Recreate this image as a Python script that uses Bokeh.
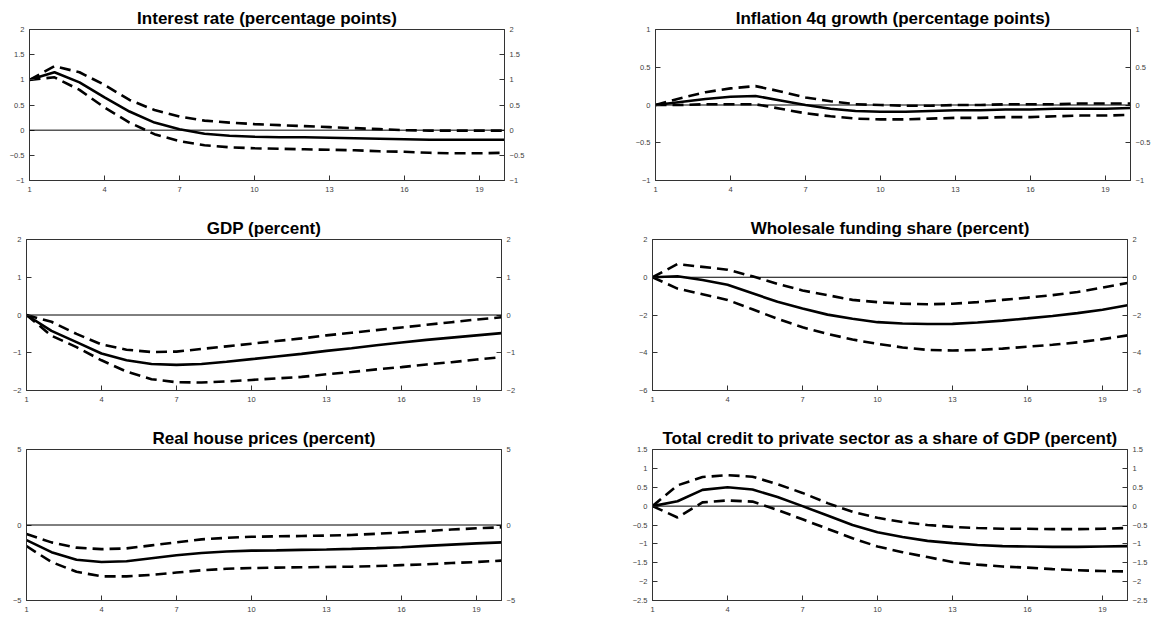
from bokeh.plotting import figure
from bokeh.layouts import column, row
from bokeh.models import Range1d, LinearAxis, FixedTicker, Span, Spacer
from bokeh.embed import file_html
from bokeh.resources import INLINE

horizon = list(range(1, 21))
x_ticks = [1, 4, 7, 10, 13, 16, 19]

titles = [
    "Interest rate (percentage points)",
    "Inflation 4q growth (percentage points)",
    "GDP (percent)",
    "Wholesale funding share (percent)",
    "Real house prices (percent)",
    "Total credit to private sector as a share of GDP (percent)",
]

rate_med = [1.00, 1.15, 0.95, 0.65, 0.37, 0.15, 0.02, -0.07, -0.11, -0.13, -0.14, -0.14, -0.15, -0.16, -0.17, -0.18, -0.19, -0.19, -0.19, -0.19]
rate_up = [1.00, 1.27, 1.15, 0.90, 0.60, 0.40, 0.27, 0.19, 0.15, 0.12, 0.10, 0.08, 0.06, 0.04, 0.02, 0.00, -0.01, -0.01, -0.01, -0.01]
rate_lo = [1.00, 1.05, 0.80, 0.45, 0.15, -0.08, -0.22, -0.30, -0.34, -0.36, -0.37, -0.38, -0.39, -0.40, -0.42, -0.43, -0.45, -0.46, -0.46, -0.45]

infl_med = [0.00, 0.04, 0.08, 0.11, 0.12, 0.06, 0.00, -0.05, -0.08, -0.09, -0.09, -0.08, -0.07, -0.07, -0.06, -0.06, -0.05, -0.05, -0.05, -0.04]
infl_up = [0.00, 0.09, 0.17, 0.22, 0.25, 0.18, 0.10, 0.05, 0.01, 0.00, -0.01, -0.01, 0.00, 0.00, 0.01, 0.01, 0.01, 0.02, 0.02, 0.02]
infl_lo = [0.00, 0.00, 0.01, 0.01, 0.01, -0.05, -0.11, -0.15, -0.18, -0.19, -0.19, -0.18, -0.17, -0.17, -0.16, -0.16, -0.15, -0.14, -0.14, -0.13]

gdp_med = [0.00, -0.42, -0.72, -1.02, -1.20, -1.30, -1.32, -1.30, -1.24, -1.17, -1.10, -1.03, -0.95, -0.88, -0.80, -0.73, -0.66, -0.60, -0.54, -0.48]
gdp_up = [0.00, -0.18, -0.50, -0.78, -0.92, -0.98, -0.97, -0.90, -0.83, -0.76, -0.69, -0.62, -0.54, -0.47, -0.40, -0.33, -0.26, -0.19, -0.12, -0.06]
gdp_lo = [0.00, -0.55, -0.85, -1.20, -1.50, -1.70, -1.78, -1.79, -1.76, -1.72, -1.68, -1.64, -1.57, -1.51, -1.44, -1.38, -1.31, -1.25, -1.18, -1.12]

wf_med = [0.00, 0.05, -0.15, -0.40, -0.85, -1.30, -1.65, -1.98, -2.20, -2.38, -2.45, -2.48, -2.47, -2.40, -2.30, -2.18, -2.05, -1.90, -1.72, -1.48]
wf_up = [0.00, 0.70, 0.55, 0.40, 0.05, -0.35, -0.70, -0.95, -1.20, -1.32, -1.40, -1.43, -1.40, -1.32, -1.20, -1.08, -0.95, -0.78, -0.55, -0.30]
wf_lo = [0.00, -0.60, -0.90, -1.20, -1.70, -2.20, -2.65, -3.00, -3.30, -3.53, -3.72, -3.85, -3.88, -3.85, -3.78, -3.68, -3.58, -3.45, -3.28, -3.08]

hp_med = [-1.00, -1.80, -2.30, -2.45, -2.40, -2.20, -2.00, -1.85, -1.75, -1.70, -1.68, -1.65, -1.62, -1.58, -1.53, -1.47, -1.38, -1.30, -1.22, -1.15]
hp_up = [-0.60, -1.15, -1.50, -1.60, -1.55, -1.35, -1.15, -0.95, -0.85, -0.78, -0.75, -0.73, -0.70, -0.66, -0.58, -0.50, -0.40, -0.30, -0.22, -0.15]
hp_lo = [-1.40, -2.45, -3.10, -3.40, -3.40, -3.30, -3.15, -3.00, -2.90, -2.85, -2.82, -2.80, -2.78, -2.76, -2.72, -2.66, -2.60, -2.52, -2.45, -2.36]

cr_med = [0.00, 0.13, 0.43, 0.50, 0.44, 0.24, 0.00, -0.25, -0.50, -0.69, -0.82, -0.92, -0.98, -1.03, -1.06, -1.07, -1.08, -1.08, -1.07, -1.06]
cr_up = [0.00, 0.55, 0.77, 0.82, 0.78, 0.58, 0.35, 0.08, -0.15, -0.31, -0.42, -0.50, -0.55, -0.58, -0.60, -0.60, -0.61, -0.61, -0.60, -0.58]
cr_lo = [0.00, -0.30, 0.10, 0.15, 0.12, -0.10, -0.35, -0.60, -0.85, -1.07, -1.22, -1.35, -1.48, -1.55, -1.60, -1.63, -1.67, -1.70, -1.72, -1.73]

y_ticks = [
    [-1, -0.5, 0, 0.5, 1, 1.5, 2],
    [-1, -0.5, 0, 0.5, 1],
    [-2, -1, 0, 1, 2],
    [-6, -4, -2, 0, 2],
    [-5, 0, 5],
    [-2.5, -2, -1.5, -1, -0.5, 0, 0.5, 1, 1.5],
]

series = [
    (rate_med, rate_up, rate_lo),
    (infl_med, infl_up, infl_lo),
    (gdp_med, gdp_up, gdp_lo),
    (wf_med, wf_up, wf_lo),
    (hp_med, hp_up, hp_lo),
    (cr_med, cr_up, cr_lo),
]

FONT = "Liberation Sans"
AX_COLOR = "#333333"
LBL_COLOR = "#404040"


def fmt(v):
    s = ("%g" % v)
    return s.replace("-", "\u2212")


def key(v):
    return int(v) if float(v).is_integer() else v


def style_axis(ax, ticks):
    ax.ticker = FixedTicker(ticks=ticks)
    ax.major_label_overrides = {key(t): fmt(t) for t in ticks}
    ax.major_tick_in = 5
    ax.major_tick_out = 0
    ax.minor_tick_line_color = None
    ax.major_tick_line_color = AX_COLOR
    ax.axis_line_color = AX_COLOR
    ax.major_label_text_font = FONT
    ax.major_label_text_font_size = "7.5px"
    ax.major_label_text_color = LBL_COLOR
    ax.major_label_standoff = 5


def make_panel(i, top, bottom):
    left_col = (i % 2 == 0)
    med, up, lo = series[i]
    yt = y_ticks[i]
    p = figure(
        frame_width=475, frame_height=151,
        x_range=Range1d(1, 20), y_range=Range1d(yt[0], yt[-1]),
        output_backend="svg", toolbar_location=None,
        min_border_left=20 if left_col else 64,
        min_border_right=87 if left_col else 19,
        min_border_top=top, min_border_bottom=bottom,
        background_fill_color="white", border_fill_color="white",
    )
    p.title.text = titles[i]
    p.title.align = "center"
    p.title.text_font = FONT
    p.title.text_font_style = "bold"
    p.title.text_font_size = "17px"
    p.title.text_color = "black"
    p.title.standoff = 3
    p.grid.visible = False
    p.outline_line_color = AX_COLOR
    p.outline_line_width = 1

    style_axis(p.xaxis[0], x_ticks)
    p.xaxis[0].major_label_standoff = 6
    style_axis(p.yaxis[0], yt)
    right = LinearAxis()
    style_axis(right, yt)
    p.add_layout(right, "right")

    p.add_layout(Span(location=0, dimension="width", line_color="black", line_width=1))
    p.line(horizon, up, line_color="black", line_width=2.6, line_dash="11 6")
    p.line(horizon, lo, line_color="black", line_width=2.6, line_dash="11 6")
    p.line(horizon, med, line_color="black", line_width=2.6)
    return p


rows = [Spacer(height=5, width=10)]
borders = [(21, 30), (29, 30), (29, 14)]
for r in range(3):
    t, b = borders[r]
    rows.append(row(Spacer(width=6, height=10), make_panel(2 * r, t, b), make_panel(2 * r + 1, t, b)))

layout = column(*rows)
open("out.html", "w").write(file_html(layout, INLINE))
